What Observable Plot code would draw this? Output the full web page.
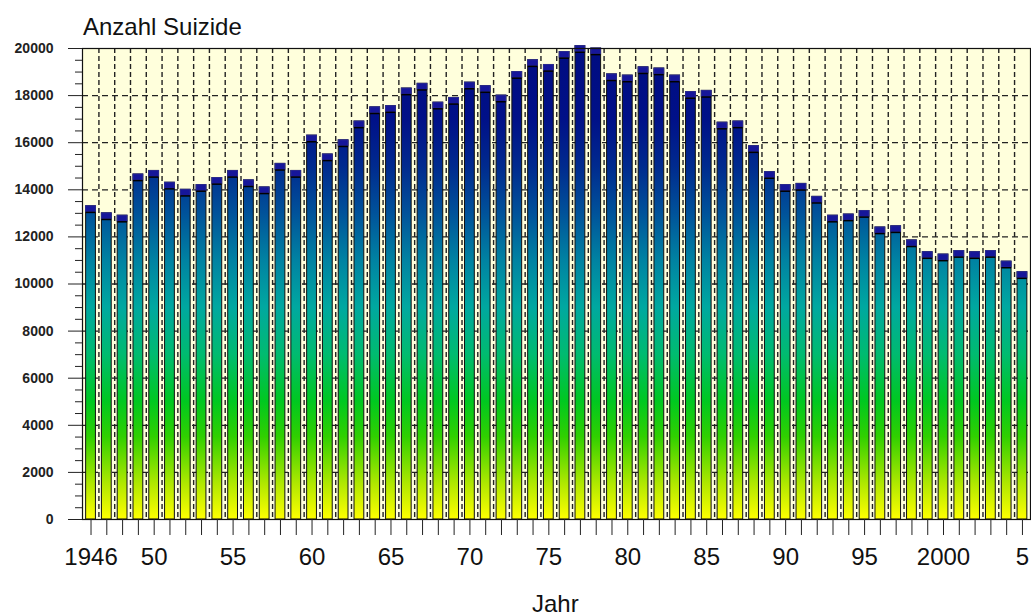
<!DOCTYPE html>
<html><head><meta charset="utf-8">
<script src="https://cdn.jsdelivr.net/npm/d3@7"></script>
<script src="https://cdn.jsdelivr.net/npm/@observablehq/plot@0.6"></script>
<style>
body{margin:0;background:#fff;font-family:"Liberation Sans",Arial,sans-serif;}
#wrap{position:relative;width:1031px;height:615px;}
#wrap svg{position:absolute;left:0;top:0;}
.lbl{position:absolute;font-size:24px;line-height:20px;color:#111;white-space:nowrap;z-index:2;}
</style></head><body>
<div id="wrap">
<div class="lbl" style="left:83px;top:17px">Anzahl Suizide</div>
<div class="lbl" style="left:532px;top:594px">Jahr</div>
</div>
<script>
const years = [1946,1947,1948,1949,1950,1951,1952,1953,1954,1955,1956,1957,1958,1959,1960,1961,1962,1963,1964,1965,1966,1967,1968,1969,1970,1971,1972,1973,1974,1975,1976,1977,1978,1979,1980,1981,1982,1983,1984,1985,1986,1987,1988,1989,1990,1991,1992,1993,1994,1995,1996,1997,1998,1999,2000,2001,2002,2003,2004,2005];
const suicides = [13300,13000,12900,14650,14800,14300,14000,14200,14500,14800,14400,14100,15100,14800,16300,15500,16100,16900,17500,17550,18300,18500,17700,17900,18550,18400,18000,19000,19500,19300,19850,20100,20000,18900,18850,19200,19150,18850,18150,18200,16850,16900,15850,14750,14200,14250,13700,12900,12950,13100,12400,12450,11850,11350,11250,11400,11350,11400,10950,10500];
const xLabelYears = [1946,1950,1955,1960,1965,1970,1975,1980,1985,1990,1995,2000,2005];
const xLabelTexts = ["1946","50","55","60","65","70","75","80","85","90","95","2000","5"];
const yMajorTicks = [0,2000,4000,6000,8000,10000,12000,14000,16000,18000,20000];
const yMinorTicks = [500,1000,1500,2500,3000,3500,4500,5000,5500,6500,7000,7500,8500,9000,9500,10500,11000,11500,12500,13000,13500,14500,15000,15500,16500,17000,17500,18500,19000,19500];
const yGridValues = [2000,4000,6000,8000,10000,12000,14000,16000,18000];
const gradValues = [0,1500,3500,5000,7000,9000,11000,13000,15000,17000,20000];
const gradColors = ["#ffff00","#b0e800","#30d000","#00c820","#00bb70","#00a8a0","#0082a2","#00529a","#002a8e","#001088","#000c80"];

const data = years.map((year, i) => ({year, value: suicides[i]}));
const gridYears = years.slice(0, -1).map(y => y + 0.5);
const labelMap = new Map(xLabelYears.map((y, i) => [y, xLabelTexts[i]]));
const half = 0.31, cap = 260;

const chart = Plot.plot({
  width: 1031, height: 615,
  marginLeft: 82, marginRight: 1, marginTop: 48, marginBottom: 96,
  style: {fontFamily: '"Liberation Sans", Arial, sans-serif', color: "#222", background: "transparent", overflow: "visible"},
  x: {domain: [1945.46, 2005.51]},
  y: {domain: [0, 20000]},
  marks: [
    Plot.frame({fill: "#ffffdc", stroke: null}),
    Plot.ruleY(yGridValues, {stroke: "#222", strokeDasharray: "6,4", strokeWidth: 1.3}),
    Plot.ruleX(gridYears, {stroke: "#222", strokeDasharray: "5,3", strokeWidth: 1.4}),
    Plot.rectY(data, {x1: d => d.year - half, x2: d => d.year + half, y1: 0, y2: "value", fill: "url(#barGrad)", stroke: "#111", strokeWidth: 1}),
    Plot.rectY(data, {x1: d => d.year - half, x2: d => d.year + half, y1: d => d.value - cap, y2: "value", fill: "#16169a", stroke: "#2a2a90", strokeWidth: 1}),
    Plot.ruleY(data, {x1: d => d.year - half, x2: d => d.year + half, y: d => d.value - cap, stroke: "#000", strokeWidth: 1.5}),
    Plot.frame({stroke: "#111", strokeWidth: 1.2}),
    Plot.axisY(yMinorTicks, {tickSize: 7, tickFormat: () => "", label: null}),
    Plot.axisY(yMajorTicks, {tickSize: 14, tickPadding: 15, fontSize: 14, fontWeight: "bold", tickFormat: d => String(d), label: null}),
    Plot.axisX(years, {tickSize: 16, tickPadding: 12, fontSize: 24, fill: "#111", tickFormat: d => labelMap.get(d) ?? "", label: null})
  ]
});

const ys = chart.scale("y");
const ns = "http://www.w3.org/2000/svg";
const defs = document.createElementNS(ns, "defs");
const lg = document.createElementNS(ns, "linearGradient");
lg.setAttribute("id", "barGrad");
lg.setAttribute("gradientUnits", "userSpaceOnUse");
lg.setAttribute("x1", 0); lg.setAttribute("x2", 0);
lg.setAttribute("y1", ys.apply(0)); lg.setAttribute("y2", ys.apply(20000));
gradValues.forEach((v, i) => {
  const s = document.createElementNS(ns, "stop");
  s.setAttribute("offset", v / 20000);
  s.setAttribute("stop-color", gradColors[i]);
  lg.appendChild(s);
});
defs.appendChild(lg);
chart.insertBefore(defs, chart.firstChild);
document.getElementById("wrap").appendChild(chart);
</script>
</body></html>
